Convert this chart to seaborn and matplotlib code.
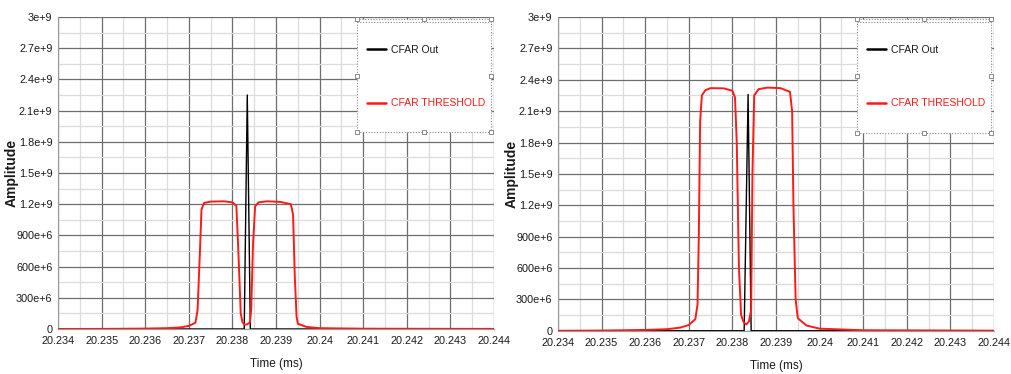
import numpy as np
import pandas as pd
import matplotlib
matplotlib.use("Agg")
import matplotlib.pyplot as plt
from matplotlib.patches import Rectangle
from matplotlib.ticker import MultipleLocator, FixedLocator
import seaborn as sns

# ---------------- data ----------------
x_ticks = [20.234, 20.235, 20.236, 20.237, 20.238, 20.239, 20.24, 20.241, 20.242, 20.243, 20.244]
x_tick_labels = ["20.234", "20.235", "20.236", "20.237", "20.238", "20.239", "20.24",
                 "20.241", "20.242", "20.243", "20.244"]
y_ticks = [0, 300e6, 600e6, 900e6, 1.2e9, 1.5e9, 1.8e9, 2.1e9, 2.4e9, 2.7e9, 3e9]
y_tick_labels = ["0", "300e+6", "600e+6", "900e+6", "1.2e+9", "1.5e+9", "1.8e+9",
                 "2.1e+9", "2.4e+9", "2.7e+9", "3e+9"]

# Left panel
left_out_t = [20.234, 20.23827, 20.23834, 20.23841, 20.244]
left_out_a = [0, 0, 2.25e9, 0, 0]

left_thr_t = [20.234, 20.235, 20.236, 20.2365, 20.2368, 20.2370, 20.23715, 20.2372,
              20.23725, 20.23729, 20.23735, 20.2375, 20.2378, 20.2380, 20.23809,
              20.23814, 20.23819, 20.23823, 20.23828, 20.23834, 20.23840, 20.23843,
              20.23847, 20.23852, 20.2386, 20.2388, 20.2391, 20.23934, 20.23939,
              20.23943, 20.23947, 20.2395, 20.2397, 20.2400, 20.241, 20.244]
left_thr_a = [0, 1e6, 4e6, 8e6, 15e6, 30e6, 60e6, 180e6,
              700e6, 1150e6, 1212e6, 1225e6, 1228e6, 1218e6, 1185e6,
              700e6, 150e6, 65e6, 42e6, 45e6, 65e6, 180e6,
              800e6, 1180e6, 1218e6, 1228e6, 1222e6, 1200e6, 1100e6,
              500e6, 120e6, 50e6, 20e6, 8e6, 3e6, 1e6]

# Right panel
right_out_t = [20.234, 20.23827, 20.23836, 20.23843, 20.244]
right_out_a = [0, 0, 2.26e9, 0, 0]

right_thr_t = [20.234, 20.235, 20.236, 20.2365, 20.2368, 20.2370, 20.23715, 20.2372,
               20.23723, 20.23726, 20.2373, 20.23738, 20.2375, 20.2378, 20.2380,
               20.23806, 20.2381, 20.23815, 20.2382, 20.23826, 20.23832, 20.23838,
               20.23843, 20.23846, 20.2385, 20.2386, 20.2388, 20.2391, 20.23932,
               20.23937, 20.2394, 20.23945, 20.2395, 20.2397, 20.2400, 20.241, 20.244]
right_thr_a = [0, 2e6, 8e6, 15e6, 30e6, 55e6, 110e6, 250e6,
               900e6, 2000e6, 2250e6, 2300e6, 2320e6, 2318e6, 2295e6,
               2230e6, 1800e6, 600e6, 150e6, 80e6, 60e6, 90e6,
               200e6, 1500e6, 2250e6, 2310e6, 2325e6, 2320e6, 2285e6,
               2100e6, 1200e6, 300e6, 120e6, 50e6, 20e6, 5e6, 1e6]

series_labels = ["CFAR Out", "CFAR THRESHOLD"]
series_colors = ["#000000", "#ff1a1a"]

# ---------------- figure ----------------
sns.set_style("white")
plt.rcParams["font.family"] = ["Liberation Sans", "DejaVu Sans"]

fig = plt.figure(figsize=(10.11, 3.74), dpi=100)
ax_l = fig.add_axes([0.0574, 0.1203, 0.4313, 0.8342])
ax_r = fig.add_axes([0.5519, 0.1156, 0.4313, 0.8389])

panels = [
    (ax_l, left_out_t, left_out_a, left_thr_t, left_thr_a),
    (ax_r, right_out_t, right_out_a, right_thr_t, right_thr_a),
]

for ax, ot, oa, tt, ta in panels:
    df_out = pd.DataFrame({"t": ot, "a": oa})
    df_thr = pd.DataFrame({"t": tt, "a": ta})
    sns.lineplot(data=df_out, x="t", y="a", color=series_colors[0], lw=1.0,
                 ax=ax, sort=False, estimator=None, zorder=3)
    sns.lineplot(data=df_thr, x="t", y="a", color=series_colors[1], lw=1.4,
                 ax=ax, sort=False, estimator=None, zorder=4)

    ax.set_xlim(x_ticks[0], x_ticks[-1])
    ax.set_ylim(y_ticks[0], y_ticks[-1])
    ax.xaxis.set_major_locator(FixedLocator(x_ticks))
    ax.set_xticklabels(x_tick_labels)
    ax.xaxis.set_minor_locator(MultipleLocator(0.0005))
    ax.yaxis.set_major_locator(FixedLocator(y_ticks))
    ax.set_yticklabels(y_tick_labels)
    ax.yaxis.set_minor_locator(MultipleLocator(150e6))

    ax.grid(which="major", color="#6e6e6e", lw=0.9, zorder=0)
    ax.grid(which="minor", color="#dcdcdc", lw=0.9, zorder=0)
    ax.set_axisbelow(True)
    for s in ["top", "right"]:
        ax.spines[s].set_visible(False)
    for s in ["left", "bottom"]:
        ax.spines[s].set_color("#9a9a9a")
        ax.spines[s].set_linewidth(0.8)

    ax.tick_params(axis="both", which="major", labelsize=7.8, length=3, color="#6e6e6e",
                   pad=1, labelcolor="#1a1a1a")
    ax.tick_params(axis="both", which="minor", length=0)
    ax.tick_params(axis="x", which="major", length=0, pad=5)

    ax.set_xlabel("Time (ms)", fontsize=8.5, labelpad=9, color="#1a1a1a")
    ax.set_ylabel("Amplitude", fontsize=10, fontweight="bold", color="#1a1a1a")
    ax.yaxis.set_label_coords(-0.09, 0.5)

    # legend box (dotted frame with handles at corners)
    bx, by, bw, bh = 0.685, 0.63, 0.308, 0.365
    ax.add_patch(Rectangle((bx, by), bw, bh, transform=ax.transAxes, facecolor="white",
                           edgecolor="#8a8a8a", lw=0.8, ls=(0, (1, 1.5)), zorder=6,
                           clip_on=False))
    hx = [bx, bx + bw / 2, bx + bw, bx, bx + bw, bx, bx + bw / 2, bx + bw]
    hy = [by + bh, by + bh, by + bh, by + bh / 2, by + bh / 2, by, by, by]
    ax.scatter(hx, hy, marker="s", s=9, facecolor="white", edgecolor="#7a7a7a",
               lw=0.6, transform=ax.transAxes, zorder=7, clip_on=False)
    ax.plot([bx, bx + bw], [by + bh - 0.012] * 2, color="#8a8a8a", lw=0.8,
            ls=(0, (1, 1.5)), transform=ax.transAxes, zorder=7, clip_on=False)

    handles = ax.get_lines()[:2]
    leg = ax.legend(handles, series_labels, loc="upper left",
                    bbox_to_anchor=(0.70, 0.925), frameon=False, fontsize=7.5,
                    handlelength=1.8, handletextpad=0.45, labelspacing=4.2,
                    borderaxespad=0)
    leg.set_zorder(8)
    for txt, c in zip(leg.get_texts(), ["#1a1a1a", "#ff1a1a"]):
        txt.set_color(c)
    for h in leg.legend_handles:
        h.set_linewidth(1.8)

fig.savefig("out.png", dpi=100, facecolor="white")
